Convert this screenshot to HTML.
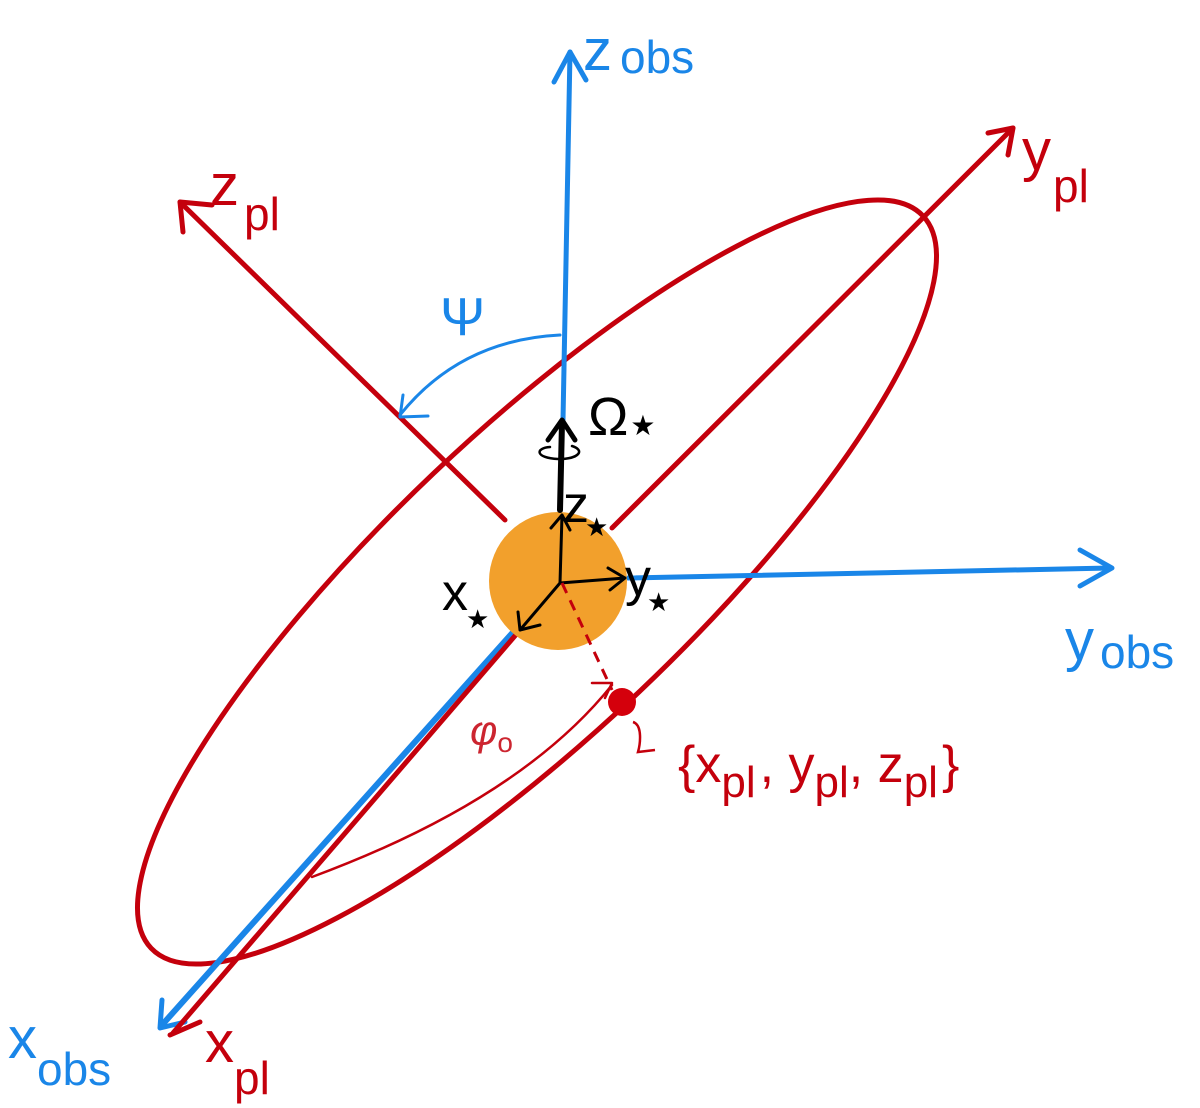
<!DOCTYPE html>
<html><head><meta charset="utf-8"><style>
html,body{margin:0;padding:0;background:#fff;}
svg{display:block;}
text{font-family:"Liberation Sans",sans-serif;}
</style></head><body>
<svg width="1200" height="1108" viewBox="0 0 1200 1108" xmlns="http://www.w3.org/2000/svg">
<g fill="none" stroke-linecap="round" stroke-linejoin="round">
<ellipse cx="537" cy="582" rx="532" ry="150" transform="rotate(-43.5 537 582)" stroke="#C4000C" stroke-width="5"/>
<path d="M563 420 L570 52" stroke="#1A86E8" stroke-width="5"/>
<path d="M554 82 L570 52 L586 80" stroke="#1A86E8" stroke-width="5"/>
<path d="M628 578 L1110 568" stroke="#1A86E8" stroke-width="5"/>
<path d="M1080 550 L1112 568 L1080 586" stroke="#1A86E8" stroke-width="5"/>
<path d="M515 630 L162 1025" stroke="#1A86E8" stroke-width="6"/>
<path d="M162 1000 L160 1028 L185 1022" stroke="#1A86E8" stroke-width="5"/>
<path d="M505 520 L180 202" stroke="#C4000C" stroke-width="5"/>
<path d="M183 232 L180 202 L212 205" stroke="#C4000C" stroke-width="5"/>
<path d="M612 528 L1013 128" stroke="#C4000C" stroke-width="5"/>
<path d="M988 133 L1013 128 L1008 155" stroke="#C4000C" stroke-width="5"/>
<path d="M520 630 L173 1033" stroke="#C4000C" stroke-width="5"/>
<path d="M170 1035 L200 1022" stroke="#C4000C" stroke-width="5"/>
<path d="M560 335 Q460 340 400 415" stroke="#1A86E8" stroke-width="3"/>
<path d="M403 395 L400 417 L428 416" stroke="#1A86E8" stroke-width="3"/>
<path d="M312 877 Q520 800 612 685" stroke="#C4000C" stroke-width="2.5"/>
<path d="M592 683 L612 683 L605 698" stroke="#C4000C" stroke-width="2.5"/>
</g>
<circle cx="558" cy="581" r="69" fill="#F2A02C"/>
<g fill="none" stroke="#000" stroke-linecap="round" stroke-linejoin="round">
<path d="M560 510 L562 422" stroke-width="6"/>
<path d="M548 440 L562 420 L575 440" stroke-width="5"/>
<path d="M550 447 C535 448 535 458 558 459 C580 459 585 450 572 446" stroke-width="2.5"/>
<path d="M560 583 L562 515 M551 528 L562 515 L570 530" stroke-width="3"/>
<path d="M560 583 L625 578 M608 568 L625 578 L610 590" stroke-width="3"/>
<path d="M560 583 L520 630 M518 612 L520 630 L540 625" stroke-width="3"/>
</g>
<path d="M562 583 L612 690" stroke="#C4000C" stroke-width="3" stroke-dasharray="11 8" fill="none"/>
<circle cx="622" cy="702" r="14" fill="#D4000C"/>
<path d="M633 722 C643 725 640 745 638 752 L655 750" stroke="#C4000C" stroke-width="2.5" fill="none"/>
<g fill="#1A86E8">
<text x="583" y="70" font-size="58">z<tspan dx="8" dy="3" font-size="46">obs</tspan></text>
<text x="1065" y="660" font-size="58">y<tspan dx="6" dy="8" font-size="46">obs</tspan></text>
<text x="8" y="1058" font-size="58">x<tspan dx="0" dy="27" font-size="46">obs</tspan></text>
<text x="440" y="335" font-size="54" font-family="Liberation Serif">Ψ</text>
</g>
<g fill="#C4000C">
<text x="1022" y="170" font-size="58">y<tspan dx="2" dy="32" font-size="46">pl</tspan></text>
<text x="210" y="205" font-size="58">z<tspan dx="5" dy="25" font-size="46">pl</tspan></text>
<text x="205" y="1062" font-size="58">x<tspan dx="0" dy="32" font-size="46">pl</tspan></text>
<text x="470" y="745" font-size="42" font-family="Liberation Serif" font-style="italic" opacity="0.85">φ<tspan dy="7" font-size="28" font-style="normal">o</tspan></text>
<text x="678" y="782" font-size="52">{x<tspan dy="15" font-size="44">pl</tspan><tspan dy="-15" dx="4">, y</tspan><tspan dy="15" font-size="44">pl</tspan><tspan dy="-15">, z</tspan><tspan dy="15" font-size="44">pl</tspan><tspan dy="-15" dx="4">}</tspan></text>
</g>
<g fill="#000">
<text x="588" y="435" font-size="54" font-family="Liberation Serif">Ω<tspan dx="2" dy="0" font-size="28" font-family="DejaVu Sans">★</tspan></text>
<text x="563" y="522" font-size="52">z<tspan dx="-4" dy="14" font-size="26" font-family="DejaVu Sans">★</tspan></text>
<text x="625" y="595" font-size="52">y<tspan dx="-4" dy="16" font-size="26" font-family="DejaVu Sans">★</tspan></text>
<text x="442" y="610" font-size="52">x<tspan dx="-2" dy="18" font-size="26" font-family="DejaVu Sans">★</tspan></text>
</g>
</svg>
</body></html>
